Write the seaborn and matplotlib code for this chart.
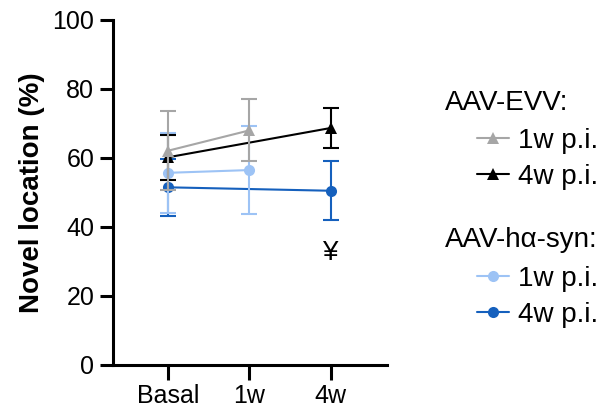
import matplotlib
matplotlib.use("Agg")
import matplotlib.pyplot as plt
from matplotlib.lines import Line2D
import seaborn as sns
import pandas as pd
import numpy as np

# ---- data ----
categories = ["Basal", "1w", "4w"]
evv_1w_x = ["Basal", "1w"]
evv_1w_mean = [62.1, 68.0]
evv_1w_err = [11.4, 9.0]
evv_4w_x = ["Basal", "4w"]
evv_4w_mean = [60.2, 68.7]
evv_4w_err = [6.5, 5.7]
syn_1w_x = ["Basal", "1w"]
syn_1w_mean = [55.7, 56.5]
syn_1w_err = [11.6, 12.8]
syn_4w_x = ["Basal", "4w"]
syn_4w_mean = [51.5, 50.5]
syn_4w_err = [8.2, 8.5]
yticks = [0, 20, 40, 60, 80, 100]
legend_labels = ["1w p.i.", "4w p.i."]
group_titles = ["AAV-EVV:", "AAV-h\u03b1-syn:"]
sig_mark = "\u00a5"
sig_cat = "4w"
sig_y = 32.5

colors = {"evv1": "#A6A6A6", "evv4": "#000000", "syn1": "#9DC3F5", "syn4": "#1560BD"}

sns.set_style("ticks")
plt.rcParams["font.family"] = ["Liberation Sans", "DejaVu Sans"]
plt.rcParams["text.color"] = "black"
plt.rcParams["axes.labelcolor"] = "black"
plt.rcParams["xtick.color"] = "black"
plt.rcParams["ytick.color"] = "black"

fig = plt.figure(figsize=(6.03, 4.12), dpi=100)
ax = fig.add_axes([0.1874, 0.1141, 0.4544, 0.8374])

pos = {c: i for i, c in enumerate(categories)}

specs = [
    (syn_4w_x, syn_4w_mean, syn_4w_err, colors["syn4"], "o"),
    (syn_1w_x, syn_1w_mean, syn_1w_err, colors["syn1"], "o"),
    (evv_4w_x, evv_4w_mean, evv_4w_err, colors["evv4"], "^"),
    (evv_1w_x, evv_1w_mean, evv_1w_err, colors["evv1"], "^"),
]
for z, (xs, m, e, col, mk) in enumerate(specs):
    xp = [pos[c] for c in xs]
    df = pd.DataFrame({"x": xp, "y": m})
    ax.errorbar(xp, m, yerr=e, fmt="none", ecolor=col, elinewidth=1.5,
                capsize=5.5, capthick=1.5, zorder=2 + z)
    sns.lineplot(data=df, x="x", y="y", color=col, marker=mk, markersize=8,
                 markeredgewidth=0, linewidth=1.5, ax=ax, zorder=2 + z)

ax.text(pos[sig_cat], sig_y, sig_mark, ha="center", va="center", fontsize=20,
        color="black")

ax.set_xlim(-0.675, 2.69)
ax.set_ylim(0, 100)
ax.set_xticks(range(len(categories)))
ax.set_xticklabels(categories, fontsize=18)
ax.set_yticks(yticks)
ax.set_yticklabels([str(t) for t in yticks], fontsize=18)
ax.set_xlabel("")
ax.set_ylabel("Novel location (%)", fontsize=20, fontweight="bold", labelpad=5)
for s in ["top", "right"]:
    ax.spines[s].set_visible(False)
for s in ["left", "bottom"]:
    ax.spines[s].set_linewidth(2.2)
    ax.spines[s].set_color("black")
ax.tick_params(axis="y", width=2.2, length=9.5, color="black", pad=4)
ax.tick_params(axis="x", width=2.2, length=10.8, color="black", pad=3)

# legends
h1 = [Line2D([], [], color=colors["evv1"], marker="^", markersize=8, markeredgewidth=0, lw=1.5),
      Line2D([], [], color=colors["evv4"], marker="^", markersize=8, markeredgewidth=0, lw=1.5)]
h2 = [Line2D([], [], color=colors["syn1"], marker="o", markersize=8, markeredgewidth=0, lw=1.5),
      Line2D([], [], color=colors["syn4"], marker="o", markersize=8, markeredgewidth=0, lw=1.5)]
kw = dict(frameon=False, fontsize=20, handlelength=1.14, handletextpad=0.32,
          borderpad=0, borderaxespad=0, labelspacing=0.35, loc="center left",
          bbox_transform=fig.transFigure)
leg1 = ax.legend(h1, legend_labels, bbox_to_anchor=(0.791, 0.6140), **kw)
ax.add_artist(leg1)
leg2 = ax.legend(h2, legend_labels, bbox_to_anchor=(0.791, 0.2800), **kw)
fig.text(0.738, 0.7493, group_titles[0], ha="left", va="center", fontsize=20)
fig.text(0.738, 0.4175, group_titles[1], ha="left", va="center", fontsize=20)

fig.savefig("out.png", dpi=100)
